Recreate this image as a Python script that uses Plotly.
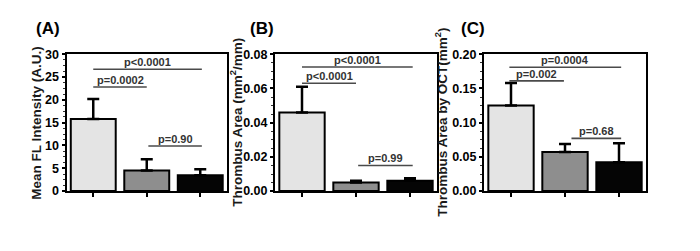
import plotly.graph_objects as go

# ---- data ----
groups = [0, 1, 2]
bar_colors = ["#e4e4e4", "#8e8e8e", "#050505"]

a_mean = [15.8, 4.5, 3.5]
a_upper = [20.2, 7.0, 4.8]
b_mean = [0.046, 0.005, 0.006]
b_upper = [0.061, 0.006, 0.0075]
c_mean = [0.125, 0.057, 0.042]
c_upper = [0.158, 0.069, 0.070]

# brackets: (x start, x end, y level, label)
a_brackets = [(0, 2.03, 26.7, "p<0.0001"), (0, 1.0, 22.8, "p=0.0002"), (1.03, 2.03, 9.9, "p=0.90")]
b_brackets = [(0, 2.05, 0.0725, "p<0.0001"), (0, 1.0, 0.063, "p<0.0001"), (1.04, 2.05, 0.015, "p=0.99")]
c_brackets = [(-0.03, 2.04, 0.181, "p=0.0004"), (-0.03, 0.98, 0.161, "p=0.002"), (1.12, 2.04, 0.077, "p=0.68")]

panel_labels = ["(A)", "(B)", "(C)"]
y_titles = ["Mean FL Intensity (A.U.)", "Thrombus Area (mm<sup>2</sup>/mm)", "Thrombus Area by OCT(mm<sup>2</sup>)"]
y_ranges = [[0, 30], [0, 0.08], [0, 0.20]]
y_dticks = [5, 0.02, 0.05]
y_formats = ["d", ".2f", ".2f"]

W, H = 700, 251
FONT = "Liberation Sans, Arial, sans-serif"

# layout geometry (pixels)
x_dom_px = [(66.5, 227), (275, 437), (484, 646)]
y_dom_px = (50, 195)
title_x_px = [37, 236, 441]
label_x_px = [48, 262, 473]

fig = go.Figure()
means = [a_mean, b_mean, c_mean]
uppers = [a_upper, b_upper, c_upper]
brackets = [a_brackets, b_brackets, c_brackets]

layout = dict(
    width=W, height=H,
    margin=dict(l=0, r=0, t=0, b=0),
    paper_bgcolor="white", plot_bgcolor="white",
    showlegend=False,
    font=dict(family=FONT, color="black"),
)
shapes = []
annotations = []
for i in range(3):
    sfx = "" if i == 0 else str(i + 1)
    xa, ya = "x" + sfx, "y" + sfx
    fig.add_trace(go.Bar(
        x=groups, y=means[i], xaxis=xa, yaxis=ya,
        width=0.84,
        marker=dict(color=bar_colors, line=dict(color="black", width=2)),
        error_y=dict(type="data", symmetric=False,
                     array=[u - m for u, m in zip(uppers[i], means[i])],
                     arrayminus=[0, 0, 0], color="black", thickness=2.5, width=6),
    ))
    x0p, x1p = x_dom_px[i]
    layout["xaxis" + sfx] = dict(
        domain=[x0p / W, x1p / W], range=[-0.5, 2.5], anchor=ya,
        showgrid=False, zeroline=False, showline=True, mirror=True,
        linecolor="black", linewidth=2, ticks="outside", ticklen=4, tickwidth=1.5,
        tickcolor="black", tickvals=groups, showticklabels=False,
    )
    layout["yaxis" + sfx] = dict(
        domain=[1 - y_dom_px[1] / H, 1 - y_dom_px[0] / H], range=y_ranges[i], anchor=xa,
        showgrid=False, zeroline=False, showline=True, mirror=True,
        linecolor="black", linewidth=2, ticks="outside", ticklen=3, tickwidth=1.5,
        tickcolor="black", dtick=y_dticks[i], tickformat=y_formats[i],
        tickfont=dict(family=FONT, size=12.5, weight="bold", color="black"),
        minor=dict(ticks="outside", ticklen=2, tickwidth=1, tickcolor="#333",
                   dtick=y_dticks[i] / 4),
    )
    for (bx0, bx1, by, lab) in brackets[i]:
        shapes.append(dict(type="line", xref=xa, yref=ya, x0=bx0, x1=bx1, y0=by, y1=by,
                           line=dict(color="#4a4a4a", width=1.6)))
        annotations.append(dict(xref=xa, yref=ya, x=(bx0 + bx1) / 2, y=by, text=lab,
                                showarrow=False, yanchor="bottom", xanchor="center", yshift=-1,
                                font=dict(family=FONT, size=11, color="#333", weight="bold")))
    annotations.append(dict(xref="paper", yref="paper", x=title_x_px[i] / W,
                            y=1 - (sum(y_dom_px) / 2) / H, text=y_titles[i], textangle=-90,
                            showarrow=False, xanchor="center", yanchor="middle",
                            font=dict(family=FONT, size=13.5, color="#1a1a1a", weight="bold")))
    annotations.append(dict(xref="paper", yref="paper", x=label_x_px[i] / W, y=1 - 23 / H,
                            text=panel_labels[i], showarrow=False, xanchor="center",
                            yanchor="middle",
                            font=dict(family=FONT, size=17, color="black", weight="bold")))

layout["shapes"] = shapes
layout["annotations"] = annotations
fig.update_layout(**layout)
fig.write_html("out.html")
